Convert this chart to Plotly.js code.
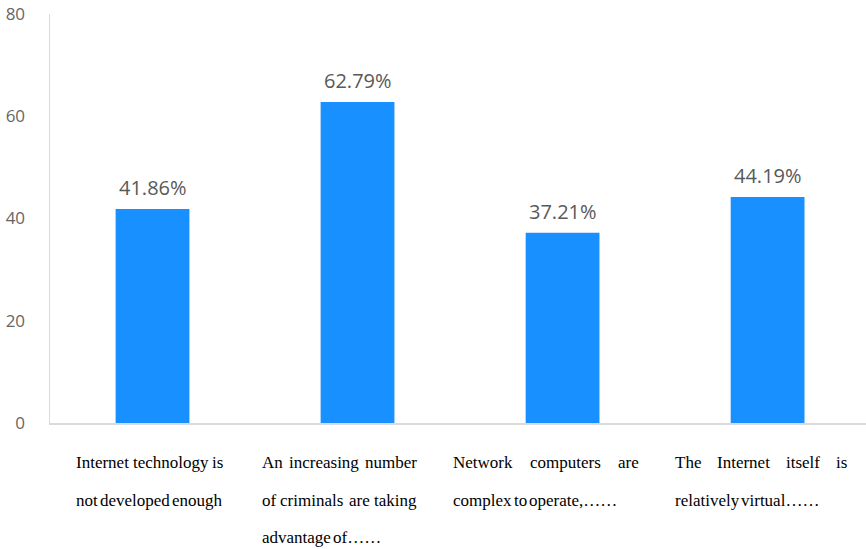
<!DOCTYPE html>
<html>
<head>
<meta charset="utf-8">
<script src="https://cdn.plot.ly/plotly-3.0.1.min.js"></script>
<style>
  html, body { margin: 0; padding: 0; background: #ffffff; }
  #chart { width: 866px; height: 549px; }
</style>
</head>
<body>
<div id="chart"></div>
<script>
// ---- data ----
const categories = [
  "Internet technology is<br>not developed enough",
  "An increasing number<br>of criminals are taking<br>advantage of……",
  "Network computers are<br>complex to operate,……",
  "The Internet itself is<br>relatively virtual……"
];
const values = [41.86, 62.79, 37.21, 44.19];
const yTicks = [0, 20, 40, 60, 80];

// ---- layout config (positions / styles) ----
const labelFamily = "Liberation Serif";
const labelFont = { family: labelFamily, size: 17, color: "#000000" };
const blockLeft = [-77, -96, -110, -93];     // px offset of label block from bar centre
const blockWidth = [148, 155, 186, 173];     // px width of justified label block
const lineShift = [-39, -77, -114];          // px vertical offsets of label lines

const canvas = document.createElement("canvas");
const ctx = canvas.getContext("2d");
ctx.font = labelFont.size + "px '" + labelFamily + "'";
function w(t) { return ctx.measureText(t).width; }

const annotations = [];

// value labels
values.forEach((v, i) => {
  annotations.push({
    x: categories[i], y: v, xref: "x", yref: "y",
    text: v.toFixed(2) + "%",
    showarrow: false, xanchor: "center", yanchor: "bottom", yshift: 6,
    font: { family: "Open Sans", size: 20, color: "#595959" }
  });
});

// justified category labels
categories.forEach((cat, i) => {
  const lines = cat.split("<br>");
  lines.forEach((line, li) => {
    const words = line.split(" ");
    const isLast = li === lines.length - 1;
    let positions = [];
    if (isLast || words.length === 1) {
      let x = 0;
      const sp = w(" ") * 0.6;
      words.forEach(wd => { positions.push(x); x += w(wd) + sp; });
    } else {
      const total = words.reduce((s, wd) => s + w(wd), 0);
      const gap = (blockWidth[i] - total) / (words.length - 1);
      let x = 0;
      words.forEach(wd => { positions.push(x); x += w(wd) + gap; });
    }
    words.forEach((wd, wi) => {
      annotations.push({
        x: categories[i], y: 0, xref: "x", yref: "paper",
        text: wd, showarrow: false, xanchor: "left", yanchor: "middle",
        xshift: blockLeft[i] + positions[wi] - 1, yshift: lineShift[li],
        borderpad: 0, font: labelFont
      });
    });
  });
});

const trace = {
  type: "bar",
  x: categories,
  y: values,
  marker: { color: "#1890FF" },
  width: 0.36,
  hoverinfo: "none"
};

const layout = {
  width: 866, height: 549,
  margin: { l: 50, r: 0, t: 14, b: 126 },
  paper_bgcolor: "#ffffff", plot_bgcolor: "#ffffff",
  showlegend: false,
  xaxis: {
    type: "category",
    range: [-0.5, 3.48],
    showticklabels: false,
    showgrid: false, zeroline: false,
    showline: true, linecolor: "#dadada", linewidth: 1.5,
    ticks: ""
  },
  yaxis: {
    range: [0, 80],
    tickvals: yTicks,
    ticktext: yTicks.map(String),
    showgrid: false, zeroline: false,
    showline: true, linecolor: "#d6d9ea", linewidth: 1.5,
    ticks: "", ticklabelstandoff: 20,
    tickfont: { family: "Open Sans", size: 17, color: "#666666" }
  },
  annotations: annotations
};

Plotly.newPlot("chart", [trace], layout, { displayModeBar: false, staticPlot: true });
</script>
</body>
</html>
